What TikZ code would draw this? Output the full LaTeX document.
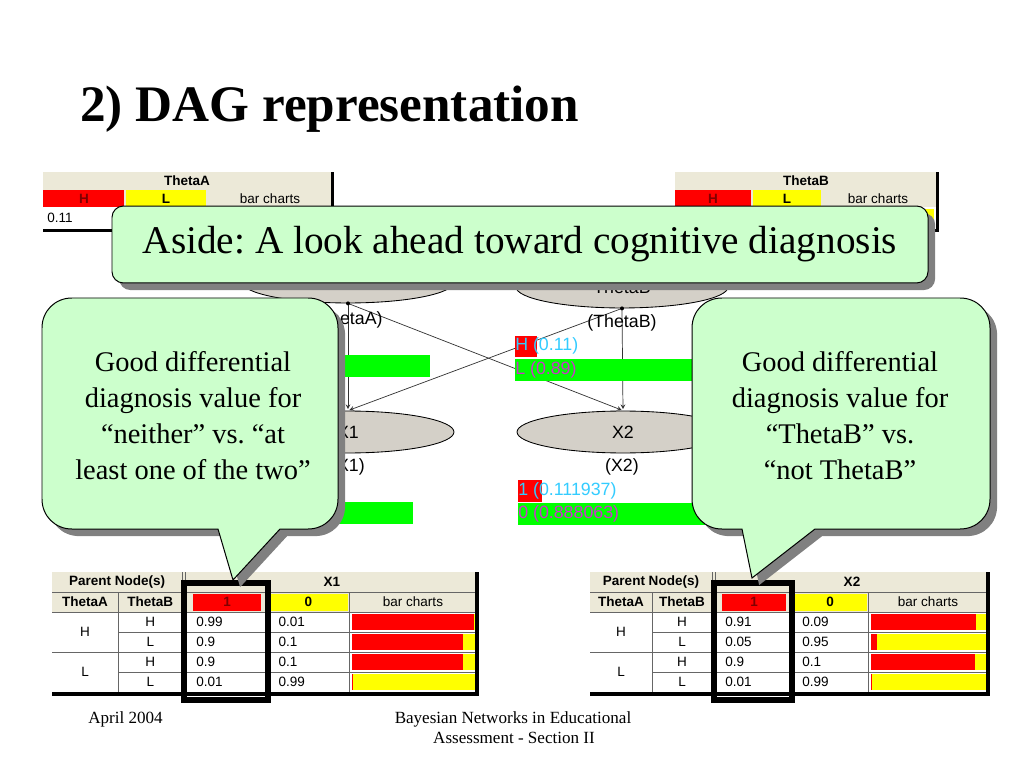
\documentclass[tikz,border=0pt]{standalone}
\usepackage{fontspec}
\setmainfont{Liberation Serif}
\newfontfamily\netfont{Liberation Sans}
\usetikzlibrary{shapes.geometric,shadows}
\frenchspacing

\definecolor{tablebeige}{RGB}{236,233,216}
\definecolor{nodegray}{RGB}{212,208,200}
\definecolor{barred}{RGB}{255,0,0}
\definecolor{baryellow}{RGB}{255,255,0}
\definecolor{bargreen}{RGB}{0,255,0}
\definecolor{calloutgreen}{RGB}{204,255,204}
\definecolor{shadowgray}{RGB}{128,128,128}
\definecolor{probcyan}{RGB}{51,204,255}
\definecolor{probmagenta}{RGB}{204,51,204}
\definecolor{celldark}{RGB}{128,0,0}

% CPT of one child node, drawn in a 398 px wide frame
\newcommand{\cpttable}[2]{%
  % #1 child name, #2 rows ThetaA/ThetaB/P(1)/P(0)
  \fill[tablebeige] (0,572) rectangle (398,612);
  \fill[white] (0,612) rectangle (398,692);
  \fill[barred] (132,594) rectangle (196,611);
  \fill[baryellow] (204,594) rectangle (277,611);
  \draw[cellline] (0,592) -- (398,592) (0,612) -- (398,612);
  \draw[cellline] (122,572) -- (122,692) (125,572) -- (125,692);
  \draw[cellline] (62,592) -- (62,692) (202,592) -- (202,692) (278,592) -- (278,692);
  \draw[cellline] (62,632) -- (398,632) (0,652) -- (398,652) (62,672) -- (398,672);
  \node[headtext] (#1par) at (61,582) {Parent Node(s)};
  \node[headtext] (#1head) at (262,582) {#1};
  \node[headtext] (#1ta) at (31,602) {ThetaA};
  \node[headtext] (#1tb) at (92,602) {ThetaB};
  \node[headtext, text=celldark] (#1one) at (164,602) {1};
  \node[headtext] (#1zero) at (240,602) {0};
  \node[cpttext] (#1bars) at (338,602) {bar charts};
  \node[cpttext] (#1hi) at (31,632) {H};
  \node[cpttext] (#1lo) at (31,672) {L};
  \foreach \pa/\pb/\pone/\pzero [count=\i] in {#2} {
    \node[cpttext] (#1b\i) at (92,602+20*\i) {\pb};
    \node[cpttext, anchor=west] (#1p\i) at (135,602+20*\i) {\pone};
    \node[cpttext, anchor=west] (#1q\i) at (212,602+20*\i) {\pzero};
    \fill[baryellow] (281,594+20*\i) rectangle (396,610+20*\i);
    \fill[barred] (281,594+20*\i) rectangle (281+115*\pone,610+20*\i);
  }
  \fill (0,692) rectangle (400,696);
  \fill (396,572) rectangle (400,696);
  \draw[line width=4.2pt] (124,583) rectangle (202,700);
}

\begin{document}
\begin{tikzpicture}[x=0.703125pt, y=-0.703125pt, >=stealth,
  cpttext/.style={font=\netfont\fontsize{9.5}{11}\selectfont, inner sep=0pt},
  headtext/.style={cpttext, font=\netfont\fontsize{9.5}{11}\selectfont\bfseries},
  cellline/.style={draw=black!60, line width=0.5pt},
  bnnode/.style={ellipse, draw, fill=nodegray, line width=0.6pt,
    minimum width=149pt, minimum height=29.5pt, inner sep=0pt,
    font=\netfont\fontsize{12.5}{15}\selectfont},
  bnlabel/.style={font=\netfont\fontsize{12.5}{15}\selectfont, inner sep=0pt},
  problabel/.style={bnlabel, anchor=west},
  edge/.style={->, draw=black!80, line width=0.5pt, shorten >=1pt},
  shade/.style={drop shadow={shadow xshift=5pt, shadow yshift=-5pt,
    opacity=1, fill=shadowgray}},
  callout/.style={fill=calloutgreen, draw=black, line width=0.7pt, shade},
  notetext/.style={align=center, font=\fontsize{20}{25.3}\selectfont}]

  \useasboundingbox (0,0) rectangle (1024,768);
  \fill[white] (0,0) rectangle (1024,768);

  % ThetaA table (top left)
  \fill[tablebeige] (43,172) rectangle (332,207);
  \fill[barred] (43,190) rectangle (124,207);
  \fill[baryellow] (126,190) rectangle (206,207);
  \fill[white] (43,207) rectangle (332,229);
  \fill (43,229) rectangle (334,232);
  \fill (331,172) rectangle (334,232);
  \node[headtext] (thetaAhead) at (187,181) {ThetaA};
  \node[headtext, text=celldark] (thetaAhi) at (84,199) {H};
  \node[headtext] (thetaAlo) at (166,199) {L};
  \node[cpttext] (thetaAbars) at (270,199) {bar charts};
  \node[cpttext, anchor=west] (thetaAval) at (47,218) {0.11};

  % ThetaB table (top right)
  \fill[tablebeige] (675,172) rectangle (936,207);
  \fill[barred] (675,190) rectangle (751,207);
  \fill[baryellow] (753,190) rectangle (821,207);
  \fill[white] (675,207) rectangle (936,229);
  \fill[barred] (824,209) rectangle (836,227);
  \fill[baryellow] (836,209) rectangle (934,227);
  \fill (675,229) rectangle (939,232);
  \fill (936,172) rectangle (939,232);
  \node[headtext] (thetaBhead) at (806,181) {ThetaB};
  \node[headtext, text=celldark] (thetaBhi) at (713,199) {H};
  \node[headtext] (thetaBlo) at (787,199) {L};
  \node[cpttext] (thetaBbars) at (878,199) {bar charts};

  % DAG
  \node[bnnode] (thetaA) at (348,282) {};
  \node[bnnode] (thetaB) at (622,287) {ThetaB};
  \node[bnnode] (X1) at (348,432) {X1};
  \node[bnnode] (X2) at (623,432) {X2};
  \draw[edge] (thetaA.south) -- (X1.north);
  \draw[edge] (thetaA.south) -- (X2.north);
  \draw[edge] (thetaB.south) -- (X1.north);
  \draw[edge] (thetaB.south) -- (X2.north);
  \fill (thetaA.south) circle (2);
  \fill (thetaB.south) circle (2);
  \node[bnlabel] (thetaAlab) at (348,320) {(ThetaA)};
  \node[bnlabel] (thetaBlab) at (622,323) {(ThetaB)};
  \node[bnlabel] (X1lab) at (348,467) {(X1)};
  \node[bnlabel] (X2lab) at (622,467) {(X2)};

  % belief bars
  \fill[bargreen] (242,355) rectangle (430,377);
  \fill[barred] (515,336) rectangle (537,357);
  \fill[bargreen] (515,359) rectangle (703,381);
  \node[problabel, text=probcyan] (thetaBh) at (515,346) {H (0.11)};
  \node[problabel, text=probmagenta] (thetaBl) at (515,370) {L (0.89)};
  \fill[bargreen] (242,502) rectangle (413,524);
  \fill[barred] (518,480) rectangle (542,502);
  \fill[bargreen] (518,503) rectangle (705,525);
  \node[problabel, text=probcyan] (X2one) at (518,491) {1 (0.111937)};
  \node[problabel, text=probmagenta] (X2zero) at (518,514) {0 (0.888063)};

  % CPTs
  \begin{scope}[xshift=52*0.703125pt, xscale=1.068]
    \cpttable{X1}{H/H/0.99/0.01, H/L/0.9/0.1, L/H/0.9/0.1, L/L/0.01/0.99}
  \end{scope}
  \begin{scope}[xshift=590*0.703125pt]
    \cpttable{X2}{H/H/0.91/0.09, H/L/0.05/0.95, L/H/0.9/0.1, L/L/0.01/0.99}
  \end{scope}

  % callouts
  \node[callout, rounded corners=8pt, minimum width=573.75pt, minimum height=54.1pt,
    font=\fontsize{27.6}{32}\selectfont] (aside) at (520,244.5)
    {Aside: A look ahead toward cognitive diagnosis};
  \path[callout] (218,529) -- (72,529) .. controls (55,529) and (42,516) .. (42,499)
    -- (42,328) .. controls (42,311) and (55,298) .. (72,298)
    -- (308,298) .. controls (325,298) and (338,311) .. (338,328)
    -- (338,499) .. controls (338,516) and (325,529) .. (308,529)
    -- (280,529) -- (233,580) -- cycle;
  \path[callout] (742,529) -- (722,529) .. controls (705,529) and (692,516) .. (692,499)
    -- (692,328) .. controls (692,311) and (705,298) .. (722,298)
    -- (960,298) .. controls (977,298) and (990,311) .. (990,328)
    -- (990,499) .. controls (990,516) and (977,529) .. (960,529)
    -- (815,529) -- (752,578) -- cycle;
  \node[notetext] (leftnote) at (193,416)
    {Good differential\\diagnosis value for\\“neither” vs. “at\\least one of the two”};
  \node[notetext] (rightnote) at (840,416)
    {Good differential\\diagnosis value for\\“ThetaB” vs.\\“not ThetaB”};

  % title and footer
  \node[anchor=base west, inner sep=0pt, font=\fontsize{36}{40}\selectfont\bfseries]
    (title) at (80,122) {2) DAG representation};
  \node[anchor=base west, inner sep=0pt, font=\fontsize{12}{14}\selectfont]
    (date) at (88,723) {April 2004};
  \node[anchor=base, inner sep=0pt, font=\fontsize{12}{14}\selectfont]
    (course) at (513,723) {Bayesian Networks in Educational};
  \node[anchor=base, inner sep=0pt, font=\fontsize{12}{14}\selectfont]
    (section) at (514,743) {Assessment - Section II};
\end{tikzpicture}
\end{document}
